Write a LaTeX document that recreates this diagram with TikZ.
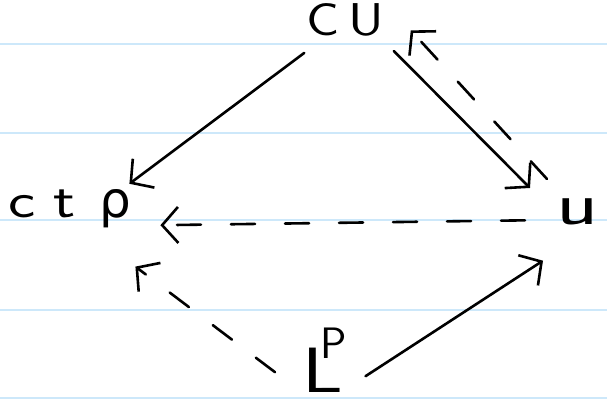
\documentclass[tikz,border=0pt]{standalone}
\usepackage{fontspec}
\usepackage{graphicx}
\newfontfamily\greekfont{DejaVu Sans}
\usepackage{tikz}
\usetikzlibrary{arrows.meta, positioning}

\definecolor{ruled}{RGB}{205,232,250}

\begin{document}
\begin{tikzpicture}[x=1pt, y=1pt,
    paperline/.style={draw=ruled, line width=1.8pt},
    implies/.style={line width=2.6pt, line cap=round, -{Straight Barb[length=16pt, width=36pt]}},
    weak/.style={implies, dash pattern=on 24pt off 30pt},
    lbl/.style={inner sep=0pt, font=\fontsize{50}{52}\selectfont\sffamily}]
        \useasboundingbox (0,0) rectangle (607,403);

        % ruled paper
        \foreach \y in {359,270,183,93,5}
            \draw[paperline] (0,\y) -- (607,\y);

        \node[lbl, anchor=base] (cu) at (345,367) {\scalebox{1.2}[1]{\fontsize{46}{48}\selectfont C\hspace{7pt}U}};
        \node[lbl, anchor=base west] (ctp) at (8,185)
            {\scalebox{1.3}[1]{c}\hspace{18pt}\scalebox{1.3}[1]{t}\hspace{24pt}{\greekfont ρ}};
        \node[lbl, anchor=base west] (u) at (556,178) {\scalebox{1.45}[1]{\fontsize{60}{62}\selectfont u}};
        \node[lbl, anchor=base west] (lp) at (302,10)
            {\scalebox{1.25}[1]{\fontsize{64}{66}\selectfont L}\hspace{-22pt}\raisebox{34pt}{\fontsize{44}{46}\selectfont P}};

        \draw[implies] ([shift={(-2,-16)}]cu.south west) -- ([shift={(-2,6)}]ctp.north east);
        \draw[implies] ([shift={(10,-14)}]cu.south east) -- ([shift={(-26,11)}]u.north west);
        \draw[weak] ([shift={(-9,20)}]u.north west) -- ([shift={(27,-10)}]cu.east);
        \draw[weak] ([shift={(-31,-8)}]u.west) -- ([shift={(29,-16)}]ctp.east);
        \draw[implies] ([shift={(18,17)}]lp.south east) -- ([shift={(-13,-35)}]u.south west);
        \draw[weak] ([shift={(-27,21)}]lp.south west) -- ([shift={(4,-38)}]ctp.south east);
\end{tikzpicture}
\end{document}
